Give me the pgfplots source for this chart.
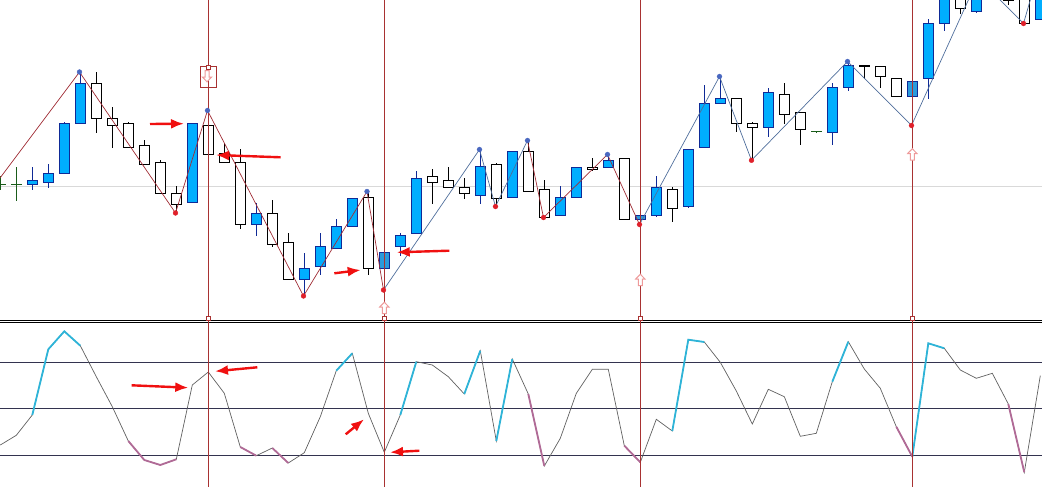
\documentclass[border=0pt]{standalone}
\usepackage{pgfplots}
\usepackage{pgfplotstable}
\pgfplotsset{compat=1.18}
\usetikzlibrary{arrows.meta}

\definecolor{candleblue}{HTML}{00AEFF}
\definecolor{candledim}{HTML}{2A9BDC}
\definecolor{candleedge}{HTML}{0F2A96}
\definecolor{dojigreen}{HTML}{1A5C1A}
\definecolor{vline}{HTML}{A83232}
\definecolor{zigred}{HTML}{A02C35}
\definecolor{zigblue}{HTML}{4F6E9C}
\definecolor{dotblue}{HTML}{4A68C0}
\definecolor{dotred}{HTML}{E0202A}
\definecolor{level}{HTML}{33334F}
\definecolor{osc}{HTML}{606060}
\definecolor{osccyan}{HTML}{2EB4D8}
\definecolor{oscmauve}{HTML}{B06A96}
\definecolor{hollow}{HTML}{EE9A9A}
\definecolor{note}{HTML}{F01010}

% all values are read off the picture, in pixels from the top
\pgfplotstableread{
x hi top bot lo
32.3 167.3 180.3 184.3 189.7
48.3 164 173.3 182.3 187.7
64.3 122 123.3 173.3 173.3
80.3 72 83.3 123.3 123.3
192.3 123.3 123.3 202.3 202.3
256.3 203.3 213.3 224.3 235.7
304.3 253.3 268.3 279.3 296
320.3 233.3 246.3 266.3 275.3
336.3 219.3 226.3 248.3 248.3
352.3 198.3 198.3 226.3 226.3
400.3 233.3 235.3 246.3 255.7
416.3 171.3 178.3 233.3 233.3
480.3 149.7 166.3 195.3 204.3
512.3 151.3 151.3 197.3 198.3
560.3 186.3 197.3 215.3 215.3
576.3 167.3 167.3 197.3 197.3
608.3 153.3 160.3 167.3 167.3
656.3 176 187.3 215.3 217.3
688.3 149.3 149.3 206.3 208.3
704.3 85 103.3 147.3 147.3
720.3 76.7 98.3 103.3 103.3
768.3 88.3 92.3 127.3 136.7
832.3 83.3 87.3 132.3 145.3
848.3 60 65.3 87.3 90.7
928.3 19.3 23.3 78.3 98.7
944.3 -20 -10 23.3 30.7
976.3 -20 -10 11.3 13.3
1040.3 -20 -10 19.3 19.3
}\bluecandles

\pgfplotstableread{
x hi top bot lo
384.3 252.3 252.3 268.3 290
640.3 215.3 215.3 219.3 224
912.3 81.3 81.3 96.3 96.3
}\dimcandles

\pgfplotstableread{
x hi top bot lo
96.3 72 83.3 118.3 132.7
112.3 107.3 118.3 125.7 147.7
128.3 122.3 123.3 147.7 147.7
144.3 140.3 145.3 164.7 164.7
160.3 160 162.3 193.3 193.3
176.3 186.3 193.3 204.3 213.3
208.3 110 125.3 154.3 154.3
224.3 143.3 153.3 162.3 162.3
240.3 149.3 162.3 224.3 228.7
272.3 200.3 213.3 244.3 246.7
288.3 233.3 242.3 279.3 279.3
368.3 192.7 197.3 268.3 275.3
432.3 169.3 176.3 182.3 204.3
448.3 167.3 180.3 187.3 187.3
464.3 178.3 187.3 193.3 198.7
496.3 163.3 164.3 198.3 206.7
528.3 140.7 151.3 191.3 191.3
544.3 180.3 189.3 217.3 217.3
592.3 158.3 167.3 169.3 171.3
624.3 158.3 158.3 219.3 219.3
672.3 187.3 189.3 208.3 222.3
736.3 98.3 98.3 123.3 132.3
752.3 122.3 123.3 127.3 160
784.3 83.3 94.3 114.3 124
800.3 111.7 112.3 129.3 145.3
880.3 66.3 66.3 76.3 87.7
896.3 78.3 78.3 96.3 96.3
960.3 -20 -10 8.3 14
1008.3 -20 -10 0.7 4.7
1024.3 -20 -10 23.3 23.3
}\whitecandles

% open = close
\pgfplotstableread{
x hi lo
0.3 176 190
16.3 167.3 200.7
816.3 131.3 133
}\greendoji

\pgfplotstableread{
x osc
0.3 445
16.3 435.3
32.3 415
48.3 349.3
64.3 331.3
80.3 345.7
96.3 376.7
112.3 406.7
128.3 441
144.3 460
160.3 465
176.3 459.3
192.3 385
208.3 372
224.3 393.3
240.3 447
256.3 455.7
272.3 448
288.3 463
304.3 452.7
320.3 416.7
336.3 370.7
352.3 353.3
368.3 413.3
384.3 452.3
400.3 415
416.3 361.7
432.3 365
448.3 376.7
464.3 394
480.3 350.7
496.3 441
512.3 359
528.3 394
544.3 466
560.3 438.3
576.3 393.3
592.3 369.3
608.3 369.3
624.3 445.7
640.3 462.3
656.3 419.3
672.3 431
688.3 339.7
704.3 342
720.3 362.3
736.3 391
752.3 424
768.3 389.3
784.3 396.7
800.3 436.3
816.3 433.3
832.3 381.7
848.3 341.7
864.3 369
880.3 388.3
896.3 426.7
912.3 456.7
928.3 343.3
944.3 348.3
960.3 370
976.3 378.3
992.3 373.3
1008.3 404
1024.3 472.3
1040.3 375.7
}\oscillator

\pgfdeclareplotmark{hollowup}{%
  \pgfpathmoveto{\pgfqpoint{0pt}{5.8pt}}
  \pgfpathlineto{\pgfqpoint{4.6pt}{1pt}}
  \pgfpathlineto{\pgfqpoint{2pt}{1pt}}
  \pgfpathlineto{\pgfqpoint{2pt}{-5.5pt}}
  \pgfpathlineto{\pgfqpoint{-2pt}{-5.5pt}}
  \pgfpathlineto{\pgfqpoint{-2pt}{1pt}}
  \pgfpathlineto{\pgfqpoint{-4.6pt}{1pt}}
  \pgfpathclose
  \pgfusepathqfillstroke}
\pgfdeclareplotmark{hollowdown}{%
  \pgfpathmoveto{\pgfqpoint{0pt}{-5.8pt}}
  \pgfpathlineto{\pgfqpoint{4.6pt}{-1pt}}
  \pgfpathlineto{\pgfqpoint{2pt}{-1pt}}
  \pgfpathlineto{\pgfqpoint{2pt}{5.5pt}}
  \pgfpathlineto{\pgfqpoint{-2pt}{5.5pt}}
  \pgfpathlineto{\pgfqpoint{-2pt}{-1pt}}
  \pgfpathlineto{\pgfqpoint{-4.6pt}{-1pt}}
  \pgfpathclose
  \pgfusepathqfillstroke}

\pgfplotsset{
  bars/.style 2 args={draw=none, mark=none, forget plot,
    error bars/.cd, y dir=both, y explicit, error mark=none,
    error bar style={line width=#1, color=#2}},
  zig/.style={#1, line width=0.7pt, forget plot},
  thick osc/.style={#1, line width=1.8pt, forget plot},
  note arrow/.style={note, line width=2.4pt, forget plot,
    -{Latex[length=13pt,width=10pt]}},
}

\newcommand{\candles}[3]{% table, edge colour, fill colour
  \addplot[bars={1.3pt}{#2}] table[x=x, y expr=(\thisrow{hi}+\thisrow{lo})/2,
    y error expr=(\thisrow{lo}-\thisrow{hi})/2] {#1};
  \addplot[bars={10.8pt}{#2}] table[x=x,
    y expr=(\thisrow{top}+\thisrow{bot})/2,
    y error expr=(\thisrow{bot}-\thisrow{top})/2+0.6] {#1};
  \addplot[bars={8.9pt}{#3}] table[x=x,
    y expr=(\thisrow{top}+\thisrow{bot})/2,
    y error expr=(\thisrow{bot}-\thisrow{top})/2-0.5] {#1};
}

\begin{document}
\begin{tikzpicture}
\begin{axis}[
    x=1pt, y=1pt,
    xmin=0, xmax=1042,
    ymin=0, ymax=487,
    y dir=reverse,
    hide axis,
    clip=true,
  ]

% price zero line
\addplot[color=black!15, line width=1pt, forget plot] coordinates {(0,186.3)(1042,186.3)};

\candles{\bluecandles}{candleedge}{candleblue}
\candles{\dimcandles}{candleedge}{candledim}
\candles{\whitecandles}{black}{white}

% dojis
\addplot[bars={1pt}{dojigreen}] table[x=x, y expr=(\thisrow{hi}+\thisrow{lo})/2,
    y error expr=(\thisrow{lo}-\thisrow{hi})/2] {\greendoji};
\addplot[color=dojigreen, line width=1pt, forget plot] coordinates {(0,184.3)(6,184.3)};
\addplot[color=dojigreen, line width=1pt, forget plot] coordinates {(10.8,184.3)(21.8,184.3)};
\addplot[color=dojigreen, line width=1pt, forget plot] coordinates {(811,131.3)(821.8,131.3)};
\addplot[color=black, line width=2pt, forget plot] coordinates {(859,66)(869.7,66)};
\addplot[color=black, line width=1.3pt, forget plot] coordinates {(864.3,66)(864.3,79.3)};

% zigzag
\addplot[zig=zigred] coordinates {(0,178)(79.5,72)(175.5,213)(207.5,110.5)(303.5,296)(367,191.5)(383.5,290)};
\addplot[zig=zigblue] coordinates {(383.5,290)(479.5,149.5)(495.5,206.5)(527.5,140.5)};
\addplot[zig=zigred] coordinates {(527.5,140.5)(543.5,217.5)(607.5,154.5)(639.5,224.5)};
\addplot[zig=zigblue] coordinates {(639.5,224.5)(719.5,76.5)(751.5,160.3)(847.5,61.5)(911.5,125.5)(972,-8)};
\addplot[zig=zigblue] coordinates {(996,-4)(1023.5,23.5)(1032,-6)};

% oscillator levels
\addplot[color=level, line width=1pt, forget plot] coordinates {(0,362.3)(1042,362.3)};
\addplot[color=level, line width=1pt, forget plot] coordinates {(0,408.3)(1042,408.3)};
\addplot[color=level, line width=1pt, forget plot] coordinates {(0,455.3)(1042,455.3)};

% oscillator
\addplot[color=osc, line width=0.7pt, forget plot] table[x=x, y=osc] {\oscillator};
\addplot[thick osc=osccyan] coordinates {(32.3,415)(48.3,349.3)(64.3,331.3)(80.3,345.7)};
\addplot[thick osc=osccyan] coordinates {(336.3,370.7)(352.3,353.3)};
\addplot[thick osc=osccyan] coordinates {(400.3,415)(416.3,361.7)};
\addplot[thick osc=osccyan] coordinates {(464.3,394)(480.3,350.7)};
\addplot[thick osc=osccyan] coordinates {(496.3,441)(512.3,359)};
\addplot[thick osc=osccyan] coordinates {(672.3,431)(688.3,339.7)(704.3,342)};
\addplot[thick osc=osccyan] coordinates {(832.3,381.7)(848.3,341.7)};
\addplot[thick osc=osccyan] coordinates {(912.3,456.7)(928.3,343.3)(944.3,348.3)};
\addplot[thick osc=oscmauve] coordinates {(128.3,441)(144.3,460)(160.3,465)(176.3,459.3)};
\addplot[thick osc=oscmauve] coordinates {(240.3,447)(256.3,455.7)};
\addplot[thick osc=oscmauve] coordinates {(272.3,448)(288.3,463)};
\addplot[thick osc=oscmauve] coordinates {(528.3,394)(544.3,466)};
\addplot[thick osc=oscmauve] coordinates {(624.3,445.7)(640.3,462.3)};
\addplot[thick osc=oscmauve] coordinates {(896.3,426.7)(912.3,456.7)};
\addplot[thick osc=oscmauve] coordinates {(1008.3,404)(1024.3,472.3)};

% pane separator
\addplot[color=black, line width=1pt, forget plot] coordinates {(0,320.5)(1042,320.5)};
\addplot[color=black, line width=1pt, forget plot] coordinates {(0,322.7)(1042,322.7)};

% signal arrows
\addplot[only marks, mark=hollowup, mark options={draw=hollow, fill=white, line width=1pt}, forget plot]
  coordinates {(384.3,308)(640.3,280)(912.3,154.5)};
\addplot[only marks, mark=hollowdown, mark options={draw=hollow, fill=white, line width=1pt}, forget plot]
  coordinates {(207,76)};

% signal bars
\addplot[color=vline, line width=1.2pt, forget plot] coordinates {(208.3,0)(208.3,487)};
\addplot[color=vline, line width=1.2pt, forget plot] coordinates {(384.3,0)(384.3,487)};
\addplot[color=vline, line width=1.2pt, forget plot] coordinates {(640.3,0)(640.3,487)};
\addplot[color=vline, line width=1.2pt, forget plot] coordinates {(912.3,0)(912.3,487)};
\addplot[color=vline, line width=0.8pt, forget plot] coordinates {(200.3,66)(216.7,66)(216.7,87.3)(200.3,87.3)(200.3,66)};
\addplot[only marks, mark=square*, mark size=2pt,
    mark options={draw=vline, fill=white, line width=0.7pt}, forget plot]
  coordinates {(208.3,67.5)(208.3,318)(384.3,318)(640.3,318)(912.3,318)};

% zigzag pivots
\addplot[only marks, mark=*, mark size=2.4pt, color=dotblue, forget plot]
  coordinates {(79.5,72)(207.5,110.5)(367,191.5)(479.5,149.5)(527.5,140.5)(607.5,154.5)(719.5,76.5)(847.5,61.5)};
\addplot[only marks, mark=*, mark size=2.4pt, color=dotred, forget plot]
  coordinates {(175.5,213)(303.5,296)(383.5,290)(495.5,206.5)(543.5,217.5)(639.5,224.5)(751.5,160.3)(911.5,125.5)(1023.5,23.5)};

% hand drawn arrows
\addplot[note arrow] coordinates {(150,124)(184,123.7)};
\addplot[note arrow] coordinates {(280.7,157.3)(216,155)};
\addplot[note arrow] coordinates {(334.3,273.3)(360.7,270)};
\addplot[note arrow] coordinates {(449.3,250.7)(396.7,252.3)};
\addplot[note arrow] coordinates {(131.7,385.3)(188.3,387.7)};
\addplot[note arrow] coordinates {(257.3,367.3)(215,371.3)};
\addplot[note arrow] coordinates {(345.7,434.3)(364,419.3)};
\addplot[note arrow] coordinates {(419.3,450.7)(390,452.3)};

\end{axis}
\end{tikzpicture}
\end{document}
